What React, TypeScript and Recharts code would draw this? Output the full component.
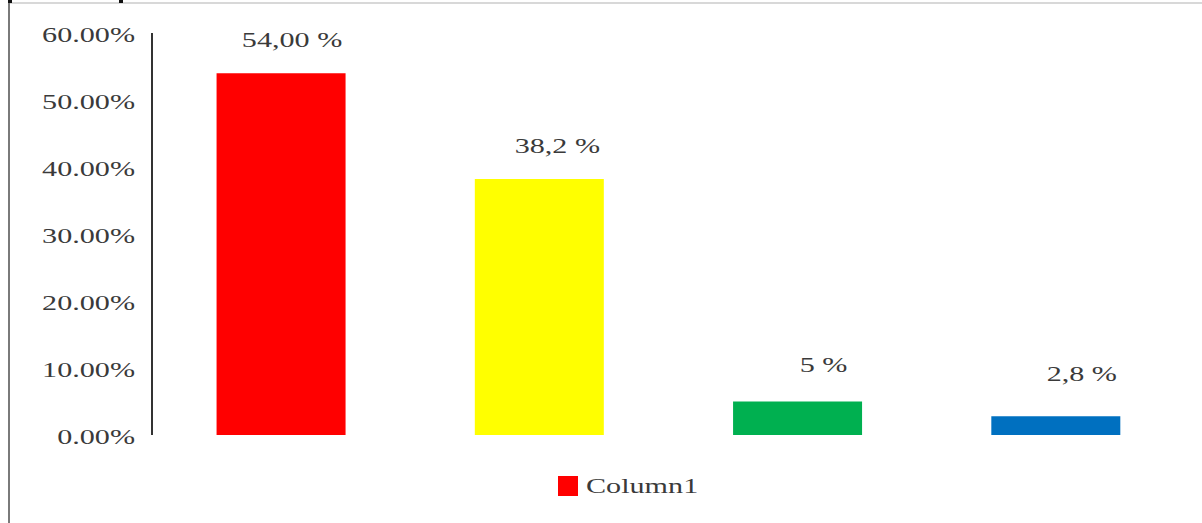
import { BarChart, Bar, XAxis, YAxis, Cell, LabelList, Legend } from "recharts"

const categories = ["A", "B", "C", "D"]
const shares = [0.54, 0.382, 0.05, 0.028]
const shareLabels = ["54,00 %", "38,2 %", "5 %", "2,8 %"]
const barColors = ["#FF0000", "#FFFF00", "#00B050", "#0070C0"]
const yTicks = [0, 0.1, 0.2, 0.3, 0.4, 0.5, 0.6]

// labels in the original sit a bit right of centre and drift per bar
const labelDx = [11, 18, 26, 26]
const labelDy = [26, 26, 30, 35]

const FONT = "'Liberation Serif', 'Times New Roman', serif"
const STRETCH = 1.37
const TEXT = "#3a3a3a"

const data = categories.map((name, i) => ({ name, Column1: shares[i] }))

function YTick(props: any) {
  const { x, y, payload } = props
  return (
    <text
      transform={`translate(${x},${y + 9}) scale(${STRETCH},1)`}
      textAnchor="end"
      fontFamily={FONT}
      fontSize={22}
      fill={TEXT}
    >
      {`${(payload.value * 100).toFixed(2)}%`}
    </text>
  )
}

function ValueLabel(props: any) {
  const { x, y, width, index } = props
  const cx = x + width / 2 + labelDx[index]
  return (
    <text
      transform={`translate(${cx},${y - labelDy[index]}) scale(${STRETCH},1)`}
      textAnchor="middle"
      fontFamily={FONT}
      fontSize={22}
      fill={TEXT}
    >
      {shareLabels[index]}
    </text>
  )
}

function LegendBox() {
  return (
    <div style={{ display: "flex", alignItems: "center", fontFamily: FONT, fontSize: 22, color: TEXT }}>
      <span style={{ width: 20, height: 20, background: barColors[0], display: "inline-block", marginRight: 8 }} />
      <span style={{ display: "inline-block", transform: `scaleX(${STRETCH})`, transformOrigin: "left center" }}>
        Column1
      </span>
    </div>
  )
}

export default function App() {
  return (
    <div style={{ position: "fixed", left: 0, top: 0, width: 1202, height: 523, background: "#fff", overflow: "hidden" }}>
      <div style={{ position: "absolute", left: 8, top: 0, width: 2, height: 523, background: "#7a7a7a" }} />
      <div style={{ position: "absolute", left: 10, top: 2, width: 1192, height: 2, background: "#d8d8d8" }} />
      <div style={{ position: "absolute", left: 8, top: 0, width: 4, height: 3, background: "#111" }} />
      <div style={{ position: "absolute", left: 119, top: 0, width: 4, height: 3, background: "#111" }} />
      <BarChart
        width={1202}
        height={523}
        data={data}
        margin={{ top: 33, right: 17, bottom: 88, left: 0 }}
        barCategoryGap="25%"
      >
        <XAxis dataKey="name" hide />
        <YAxis
          width={152}
          domain={[0, 0.6]}
          ticks={yTicks}
          interval={0}
          tickLine={false}
          tickSize={0}
          tickMargin={17}
          axisLine={{ stroke: "#333", strokeWidth: 2 }}
          tick={<YTick />}
        />
        <Legend
          layout="horizontal"
          verticalAlign="middle"
          align="center"
          content={<LegendBox />}
          wrapperStyle={{ top: 473, left: 558, width: 200, height: 22 }}
        />
        <Bar dataKey="Column1" isAnimationActive={false}>
          {data.map((d, i) => (
            <Cell key={d.name} fill={barColors[i]} />
          ))}
          <LabelList dataKey="Column1" content={<ValueLabel />} />
        </Bar>
      </BarChart>
    </div>
  )
}
